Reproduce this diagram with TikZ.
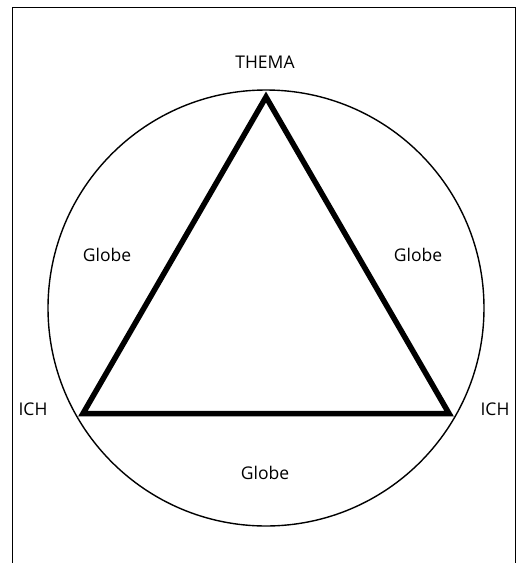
\documentclass[tikz,border=0pt]{standalone}
\usepackage{fontspec}
\setmainfont{Open Sans}

\begin{document}
\begin{tikzpicture}[x=1pt,y=-1pt,font=\fontsize{17.5}{20}\selectfont]
  \useasboundingbox (0,0) rectangle (518,563);
  \draw[line width=0.8pt] (12,563) -- (12,7) -- (515,7) -- (515,563);
  \draw[line width=1.4pt] (266,308) circle (218pt);
  \coordinate (top) at (266,97);
  \coordinate (left) at (83,413.5);
  \coordinate (right) at (449,413.5);
  \draw[line width=5.5pt] (top) -- (right) -- (left) -- cycle;
  \node (thema) at (265,62) {THEMA};
  \node (ichl) at (33,409) {ICH};
  \node (ichr) at (495,409) {ICH};
  \node (globel) at (107,255) {Globe};
  \node (glober) at (418,255) {Globe};
  \node (globeb) at (265,473) {Globe};
\end{tikzpicture}
\end{document}
